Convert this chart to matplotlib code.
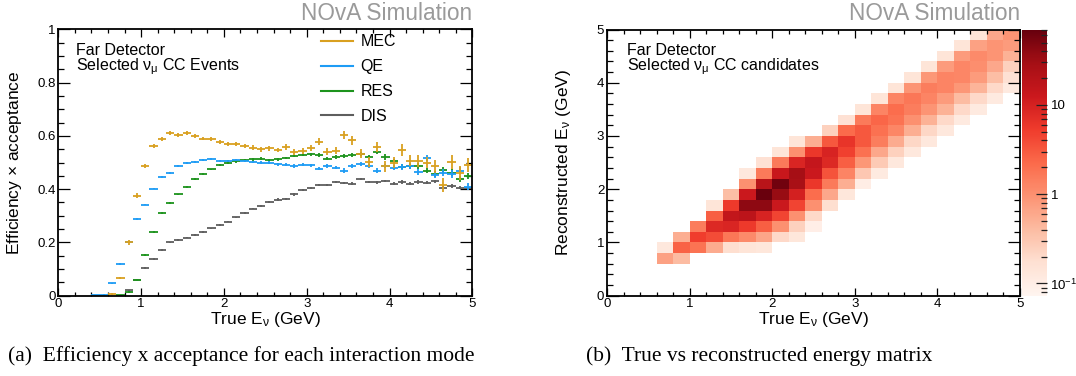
import numpy as np
import matplotlib
matplotlib.use("Agg")
import matplotlib.pyplot as plt
from matplotlib.colors import LogNorm
from matplotlib.lines import Line2D
from matplotlib.ticker import MultipleLocator, FixedLocator, FixedFormatter, NullFormatter

plt.rcParams['font.family'] = ['Liberation Sans', 'DejaVu Sans']
plt.rcParams['mathtext.fontset'] = 'custom'
plt.rcParams['mathtext.rm'] = 'Liberation Sans'
plt.rcParams['mathtext.it'] = 'Liberation Sans:italic'

nan = np.nan

# ---------------- data: panel (a) ----------------
energy_edges = np.linspace(0.0, 5.0, 51)          # 0.1 GeV bins
modes = ["MEC", "QE", "RES", "DIS"]
mode_colors = {"MEC": "#d9a020", "QE": "#1e9cf5", "RES": "#1d931d", "DIS": "#5e5e5e"}

eff_mec = [nan, nan, nan, nan, nan, nan, 0.0075, 0.066, 0.20, 0.375,
           0.487, 0.563, 0.587, 0.611, 0.603, 0.610, 0.599, 0.590, 0.587, 0.578,
           0.569, 0.569, 0.561, 0.556, 0.549, 0.553, 0.546, 0.559, 0.540, 0.544,
           0.556, 0.578, 0.540, 0.545, 0.603, 0.583, 0.533, 0.502, 0.559, 0.485,
           0.500, 0.546, 0.507, 0.505, 0.500, 0.485, 0.416, 0.503, 0.462, 0.492]
err_mec = [0, 0, 0, 0, 0, 0, 0.003, 0.005, 0.008, 0.010,
           0.009, 0.008, 0.007, 0.007, 0.007, 0.007, 0.007, 0.007, 0.007, 0.007,
           0.007, 0.008, 0.008, 0.008, 0.008, 0.008, 0.008, 0.011, 0.011, 0.011,
           0.011, 0.013, 0.013, 0.013, 0.016, 0.016, 0.016, 0.019, 0.019, 0.019,
           0.019, 0.022, 0.022, 0.022, 0.022, 0.026, 0.026, 0.026, 0.026, 0.026]

eff_qe = [nan, nan, nan, nan, 0.001, 0.004, 0.046, 0.120, 0.200, 0.287,
          0.342, 0.402, 0.446, 0.461, 0.487, 0.497, 0.502, 0.509, 0.512, 0.506,
          0.507, 0.509, 0.506, 0.501, 0.500, 0.500, 0.494, 0.491, 0.487, 0.492,
          0.489, 0.477, 0.487, 0.481, 0.469, 0.487, 0.494, 0.487, 0.469, 0.487,
          0.481, 0.484, 0.487, 0.464, 0.518, 0.452, 0.462, 0.456, 0.469, 0.409]
err_qe = [0, 0, 0, 0, 0.001, 0.002, 0.003, 0.003, 0.003, 0.003,
          0.003, 0.003, 0.003, 0.004, 0.004, 0.004, 0.004, 0.004, 0.004, 0.004,
          0.004, 0.004, 0.004, 0.004, 0.004, 0.004, 0.006, 0.006, 0.006, 0.006,
          0.006, 0.006, 0.006, 0.006, 0.009, 0.009, 0.009, 0.009, 0.009, 0.009,
          0.009, 0.012, 0.012, 0.012, 0.012, 0.012, 0.014, 0.014, 0.014, 0.014]

eff_res = [nan, nan, nan, nan, nan, nan, nan, 0.002, 0.013, 0.060,
           0.152, 0.240, 0.310, 0.349, 0.380, 0.408, 0.437, 0.456, 0.474, 0.490,
           0.499, 0.505, 0.509, 0.512, 0.515, 0.509, 0.512, 0.517, 0.525, 0.528,
           0.531, 0.528, 0.515, 0.521, 0.525, 0.528, 0.532, 0.520, 0.538, 0.521,
           0.505, 0.484, 0.487, 0.487, 0.469, 0.456, 0.470, 0.462, 0.437, 0.449]
err_res = [0, 0, 0, 0, 0, 0, 0, 0.002, 0.003, 0.003,
           0.003, 0.003, 0.003, 0.003, 0.003, 0.003, 0.003, 0.003, 0.003, 0.003,
           0.003, 0.005, 0.005, 0.005, 0.005, 0.005, 0.005, 0.005, 0.005, 0.005,
           0.005, 0.007, 0.007, 0.007, 0.007, 0.007, 0.007, 0.007, 0.007, 0.010,
           0.010, 0.010, 0.010, 0.010, 0.010, 0.012, 0.012, 0.012, 0.012, 0.012]

eff_dis = [nan, nan, nan, nan, nan, nan, nan, nan, 0.020, 0.058,
           0.105, 0.138, 0.172, 0.200, 0.208, 0.218, 0.228, 0.240, 0.253, 0.265,
           0.278, 0.294, 0.311, 0.327, 0.337, 0.352, 0.361, 0.363, 0.380, 0.396,
           0.405, 0.417, 0.415, 0.427, 0.424, 0.421, 0.437, 0.427, 0.425, 0.430,
           0.421, 0.427, 0.421, 0.427, 0.424, 0.430, 0.406, 0.412, 0.406, 0.403]
err_dis = [0, 0, 0, 0, 0, 0, 0, 0, 0.003, 0.003,
           0.003, 0.003, 0.003, 0.003, 0.003, 0.003, 0.003, 0.003, 0.003, 0.003,
           0.003, 0.003, 0.003, 0.003, 0.003, 0.003, 0.004, 0.004, 0.004, 0.004,
           0.004, 0.004, 0.004, 0.004, 0.004, 0.004, 0.004, 0.004, 0.004, 0.004,
           0.004, 0.006, 0.006, 0.006, 0.006, 0.006, 0.006, 0.006, 0.006, 0.006]

# ---------------- data: panel (b) ----------------
true_edges = np.linspace(0.0, 5.0, 26)     # 0.2 GeV bins
reco_edges = np.linspace(0.0, 5.0, 26)
# counts[reco_bin][true_bin]
counts = [
 [0]*25,
 [0]*25,
 [0]*25,
 [0,0,0,0.70,0.405,0,0,0,0,0,0,0,0,0,0,0,0,0,0,0,0,0,0,0,0],
 [0,0,0,0.126,2.59,1.83,0.571,0.178,0.145,0.135,0,0,0,0,0,0,0,0,0,0,0,0,0,0,0],
 [0,0,0,0,0.533,5.14,3.90,1.71,1.13,0.655,0.204,0.135,0,0,0,0,0,0,0,0,0,0,0,0,0],
 [0,0,0,0,0,1.49,8.31,8.90,5.51,2.77,0.99,0.25,0.096,0,0,0,0,0,0,0,0,0,0,0,0],
 [0,0,0,0,0,0,2.77,15.4,17.7,9.53,4.48,0.99,0.204,0,0,0,0,0,0,0,0,0,0,0,0],
 [0,0,0,0,0,0,0.145,5.51,40.3,40.3,12.6,4.48,0.99,0.178,0,0,0,0,0,0,0,0,0,0,0],
 [0,0,0,0,0,0,0,0.378,12.6,68.0,35.1,10.2,2.10,0.611,0.135,0,0,0,0,0,0,0,0,0,0],
 [0,0,0,0,0,0,0,0,0.99,18.9,60.8,26.7,5.90,1.60,0.533,0.103,0,0,0,0,0,0,0,0,0],
 [0,0,0,0,0,0,0,0,0.126,1.60,13.4,28.6,12.6,3.40,1.30,0.308,0.118,0,0,0,0,0,0,0,0],
 [0,0,0,0,0,0,0,0,0,0.166,1.60,8.90,14.4,8.31,2.77,0.862,0.287,0.126,0,0,0,0,0,0,0],
 [0,0,0,0,0,0,0,0,0,0,0.145,0.99,5.90,9.53,4.80,1.96,0.611,0.25,0.126,0,0,0,0,0,0],
 [0,0,0,0,0,0,0,0,0,0,0,0.145,0.533,3.18,6.32,3.18,1.49,0.571,0.218,0.126,0,0,0,0,0],
 [0,0,0,0,0,0,0,0,0,0,0,0,0,0.25,2.25,3.18,1.96,1.22,0.533,0.218,0.126,0,0,0,0],
 [0,0,0,0,0,0,0,0,0,0,0,0,0,0,0.166,1.60,2.41,1.83,0.99,0.498,0.204,0.118,0,0,0],
 [0,0,0,0,0,0,0,0,0,0,0,0,0,0,0,0.145,1.30,2.10,1.49,0.923,0.498,0.204,0.118,0,0],
 [0,0,0,0,0,0,0,0,0,0,0,0,0,0,0,0,0.145,1.30,1.71,1.30,0.805,0.405,0.204,0.118,0],
 [0,0,0,0,0,0,0,0,0,0,0,0,0,0,0,0,0,0.145,0.923,1.49,1.30,0.862,0.465,0.204,0.118],
 [0,0,0,0,0,0,0,0,0,0,0,0,0,0,0,0,0,0,0.145,0.862,1.30,1.22,0.805,0.378,0.166],
 [0,0,0,0,0,0,0,0,0,0,0,0,0,0,0,0,0,0,0,0.145,0.805,1.22,1.06,0.611,0.25],
 [0,0,0,0,0,0,0,0,0,0,0,0,0,0,0,0,0,0,0,0,0.145,0.805,1.13,0.923,0.498],
 [0,0,0,0,0,0,0,0,0,0,0,0,0,0,0,0,0,0,0,0,0,0.145,0.70,0.923,0.805],
 [0,0,0,0,0,0,0,0,0,0,0,0,0,0,0,0,0,0,0,0,0,0,0.145,0.611,0.923],
]
z_min, z_max = 0.073, 70.0

# ---------------- figure ----------------
W, H = 1076, 376
fig = plt.figure(figsize=(W / 100, H / 100), dpi=100)

def frac_box(x0, y0, x1, y1):
    return [x0 / W, 1 - y1 / H, (x1 - x0) / W, (y1 - y0) / H]

def root_ticks(ax, xmaj, xmin, ymaj, ymin):
    ax.xaxis.set_major_locator(MultipleLocator(xmaj))
    ax.xaxis.set_minor_locator(MultipleLocator(xmin))
    ax.yaxis.set_major_locator(MultipleLocator(ymaj))
    ax.yaxis.set_minor_locator(MultipleLocator(ymin))
    ax.tick_params(which='both', direction='in', top=True, right=True, width=0.9,
                   labelsize=9.5, color='black')
    ax.tick_params(axis='x', which='major', length=5.8, pad=1.5)
    ax.tick_params(axis='x', which='minor', length=2.9)
    ax.tick_params(axis='y', which='major', length=8.9, pad=2)
    ax.tick_params(axis='y', which='minor', length=4.5)
    for s in ax.spines.values():
        s.set_linewidth(1.3)

fmt_g = plt.FuncFormatter(lambda v, p: f"{v:g}")
xlabel_txt = r"True E$_{\mathrm{ν}}$ (GeV)"

# ----- panel (a) -----
axa = fig.add_axes(frac_box(58.3, 29.3, 472.3, 295.7))
centers = 0.5 * (energy_edges[:-1] + energy_edges[1:])
halfw = 0.5 * np.diff(energy_edges)
series = {"MEC": (eff_mec, err_mec), "QE": (eff_qe, err_qe),
          "RES": (eff_res, err_res), "DIS": (eff_dis, err_dis)}
for m in ["DIS", "RES", "QE", "MEC"]:
    v, e = series[m]
    axa.errorbar(centers, v, xerr=halfw, yerr=e, fmt='none',
                 ecolor=mode_colors[m], elinewidth=1.3, capsize=0)
axa.set_xlim(0, 5)
axa.set_ylim(0, 1)
root_ticks(axa, 1, 0.2, 0.2, 0.05)
axa.xaxis.set_major_formatter(fmt_g)
axa.yaxis.set_major_formatter(fmt_g)
axa.set_xlabel(xlabel_txt, fontsize=12.5)
axa.set_ylabel(r"Efficiency $\times$ acceptance", fontsize=12.5)
axa.xaxis.set_label_coords(0.5, -0.055)
axa.yaxis.set_label_coords(-0.082, 0.5)
axa.text(0.042, 0.95, "Far Detector\n" + r"Selected ν$_{\mathrm{μ}}$ CC Events",
         transform=axa.transAxes, fontsize=11.5, va='top', ha='left', linespacing=0.92)
handles = [Line2D([], [], color=mode_colors[m], lw=1.5) for m in modes]
axa.legend(handles, modes, loc='upper left', bbox_to_anchor=(0.62, 1.005),
           frameon=False, fontsize=11.5, handlelength=2.0, handletextpad=0.45,
           labelspacing=0.62, borderaxespad=0)
fig.text(472.3 / W, 1 - 13 / H, "NOvA Simulation", color='#9a9a9a', fontsize=16.3,
         ha='right', va='center')

# ----- panel (b) -----
axb = fig.add_axes(frac_box(607, 29.5, 1020, 295.7))
Z = np.ma.masked_less_equal(np.array(counts, dtype=float), 0)
mesh = axb.pcolormesh(true_edges, reco_edges, Z, cmap='Reds',
                      norm=LogNorm(vmin=z_min, vmax=z_max))
axb.set_xlim(0, 5)
axb.set_ylim(0, 5)
root_ticks(axb, 1, 0.2, 1, 0.2)
axb.xaxis.set_major_formatter(fmt_g)
axb.yaxis.set_major_formatter(fmt_g)
axb.set_xlabel(xlabel_txt, fontsize=12.5)
axb.set_ylabel(r"Reconstructed E$_{\mathrm{ν}}$ (GeV)", fontsize=12.5)
axb.xaxis.set_label_coords(0.5, -0.055)
axb.yaxis.set_label_coords(-0.082, 0.5)
axb.text(0.048, 0.95, "Far Detector\n" + r"Selected ν$_{\mathrm{μ}}$ CC candidates",
         transform=axb.transAxes, fontsize=11.5, va='top', ha='left', linespacing=0.92)
fig.text(1020 / W, 1 - 13 / H, "NOvA Simulation", color='#9a9a9a', fontsize=16.3,
         ha='right', va='center')

cax = fig.add_axes(frac_box(1022, 29.5, 1047, 295.7))
cb = fig.colorbar(mesh, cax=cax)
cb.outline.set_visible(False)
cax.yaxis.set_major_locator(FixedLocator([0.1, 1, 10]))
cax.yaxis.set_major_formatter(FixedFormatter([r"10$^{-1}$", "1", "10"]))
minor = [m * d for d in (0.01, 0.1, 1, 10) for m in range(2, 10)]
cax.yaxis.set_minor_locator(FixedLocator([t for t in minor if z_min <= t <= z_max]))
cax.yaxis.set_minor_formatter(NullFormatter())
cax.tick_params(which='both', direction='in', right=True, left=False, color='#222222',
                width=0.9, labelsize=9.5, pad=2.5)
cax.tick_params(which='major', length=8)
cax.tick_params(which='minor', length=4)

# ----- captions -----
fig.text(8 / W, 1 - 356 / H, "(a)  Efficiency x acceptance for each interaction mode",
         family='Liberation Serif', fontsize=15.5, ha='left', va='center')
fig.text(586 / W, 1 - 356 / H, "(b)  True vs reconstructed energy matrix",
         family='Liberation Serif', fontsize=15.5, ha='left', va='center')

fig.savefig("out.png", dpi=100)
